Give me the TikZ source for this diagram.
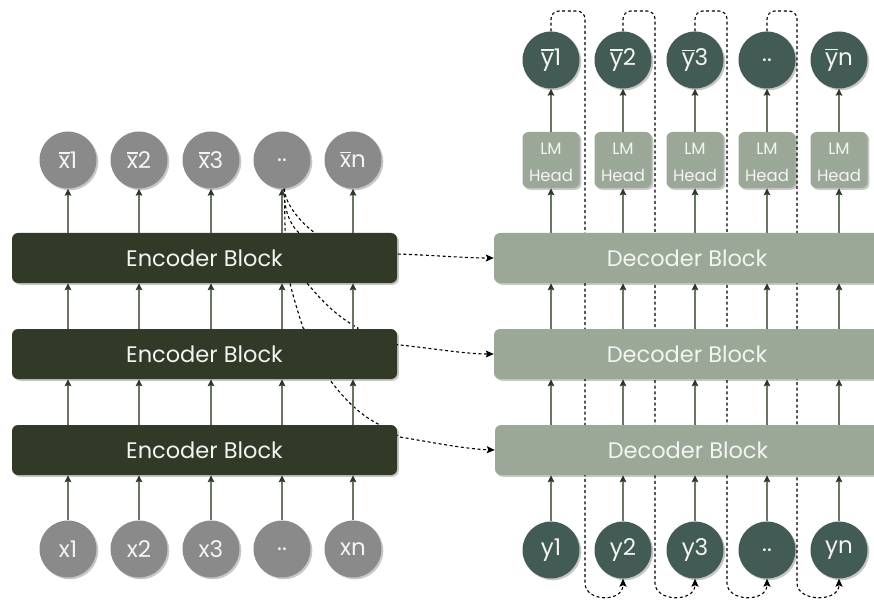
\documentclass[tikz,border=0pt]{standalone}
\usepackage{fontspec}
\setmainfont{Poppins}
\usetikzlibrary{arrows.meta,shadows,calc}

\pgfdeclarelayer{background}
\pgfsetlayers{background,main}

\definecolor{encfill}{HTML}{313A27}
\definecolor{xgray}{HTML}{8A8A8A}
\definecolor{decfill}{HTML}{9BA898}
\definecolor{yteal}{HTML}{435B55}
\definecolor{flowline}{HTML}{6B7565}
\definecolor{flowtip}{HTML}{2E3A28}
\definecolor{labelwhite}{HTML}{F4F4F2}

% letter with a bar over it
\newcommand\barglyph[1]{\leavevmode\vbox{\hrule height 1.2pt\kern2.2pt\hbox{#1}}}

\tikzset{
  softshadow/.style={drop shadow={shadow xshift=1.8pt,shadow yshift=-1.8pt,fill=black,opacity=0.22}},
  xtoken/.style={circle, fill=xgray, text=labelwhite, minimum size=57, inner sep=0,
    font=\fontsize{23}{26}\selectfont, softshadow},
  ytoken/.style={xtoken, fill=yteal},
  encblock/.style={rounded corners=6, fill=encfill, text=labelwhite, minimum width=385,
    minimum height=50, inner sep=0, font=\fontsize{22.5}{26}\selectfont, softshadow},
  decblock/.style={encblock, fill=decfill, minimum width=386},
  lmhead/.style={rounded corners=6, fill=decfill, text=labelwhite, minimum width=57,
    minimum height=56, inner sep=0, align=center, font=\fontsize{16.5}{28}\selectfont, softshadow},
  flow/.style={draw=flowline, line width=1.3,
    -{Stealth[length=7pt,width=6.5pt,inset=1pt,color=flowtip]}},
  xlink/.style={draw=black, line width=1.1, dash pattern=on 3pt off 2.6pt,
    -{Stealth[length=8pt,width=7pt,inset=1.5pt]}},
  fbloop/.style={xlink, rounded corners=8},
}

\begin{document}
\begin{tikzpicture}[x=1pt,y=-1pt]
\useasboundingbox (0,0) rectangle (874,601);
\clip (0,0) rectangle (874,601);

% encoder stack
\node[encblock] (e1) at (204.5,258) {Encoder Block};
\node[encblock] (e2) at (204.5,354) {Encoder Block};
\node[encblock] (e3) at (204.5,450) {Encoder Block};

% decoder stack (runs past the right edge)
\node[decblock] (d1) at (687,258) {Decoder Block};
\node[decblock] (d2) at (687,354) {Decoder Block};
\node[decblock] (d3) at (688,450) {Decoder Block};

% encoder input and output tokens
\node[xtoken] (x1) at (68,549)  {x1};
\node[xtoken] (x2) at (139,549) {x2};
\node[xtoken] (x3) at (211,549) {x3};
\node[xtoken] (x4) at (282,549) {..};
\node[xtoken] (x5) at (353,549) {xn};

\node[xtoken] (xb1) at (68,160)  {\barglyph{x}1};
\node[xtoken] (xb2) at (139,160) {\barglyph{x}2};
\node[xtoken] (xb3) at (211,160) {\barglyph{x}3};
\node[xtoken] (xb4) at (282,160) {..};
\node[xtoken] (xb5) at (353,160) {\barglyph{x}n};

% decoder input tokens, LM heads and predictions
\node[ytoken] (y1) at (551,550) {y1};
\node[ytoken] (y2) at (623,550) {y2};
\node[ytoken] (y3) at (695,550) {y3};
\node[ytoken] (y4) at (767,550) {..};
\node[ytoken] (y5) at (839,550) {yn};

\foreach \i/\xx in {1/551,2/623,3/695,4/767,5/839}
  \node[lmhead] (lm\i) at (\xx,160) {\rule{0pt}{16pt}LM\\[-1pt]Head};

\node[ytoken] (yb1) at (551,60) {\barglyph{y}1};
\node[ytoken] (yb2) at (623,60) {\barglyph{y}2};
\node[ytoken] (yb3) at (695,60) {\barglyph{y}3};
\node[ytoken] (yb4) at (767,60) {..};
\node[ytoken] (yb5) at (839,60) {\barglyph{y}n};

% vertical data flow
\foreach \i in {1,...,5} {
  \draw[flow] (x\i.north) -- (x\i.north |- e3.south);
  \draw[flow] (x\i.north |- e3.north) -- (x\i.north |- e2.south);
  \draw[flow] (x\i.north |- e2.north) -- (x\i.north |- e1.south);
  \draw[flow] (x\i.north |- e1.north) -- (xb\i.south);
  \draw[flow] (y\i.north) -- (y\i.north |- d3.south);
  \draw[flow] (y\i.north |- d3.north) -- (y\i.north |- d2.south);
  \draw[flow] (y\i.north |- d2.north) -- (y\i.north |- d1.south);
  \draw[flow] (y\i.north |- d1.north) -- (lm\i.south);
  \draw[flow] (lm\i.north) -- (yb\i.south);
}

\begin{pgfonlayer}{background}
  % encoder output handed to every decoder block
  \draw[xlink] ([xshift=2pt]xb4.south) .. controls (284,250) and (330,252) .. (397,254)
    .. controls (430,255) and (465,258) .. (d1.west);
  \draw[xlink] ([xshift=2.5pt]xb4.south) .. controls (285,262) and (287,272) .. (290,283)
    .. controls (294,300) and (299,315) .. (303,328)
    .. controls (330,338) and (380,343) .. (400,345)
    .. controls (430,348) and (465,354) .. (d2.west);
  \draw[xlink] ([xshift=2pt]xb4.south) .. controls (286,205) and (300,222) .. (315,233)
    -- (307,283) .. controls (325,305) and (340,318) .. (358,328)
    -- (330,380) .. controls (345,400) and (360,415) .. (380,425)
    -- (400,437) .. controls (430,442) and (465,449) .. (d3.west);

  % each prediction fed back as the next decoder input
  \foreach \a/\b/\s in {1/2/585,2/3/655,3/4/727,4/5/797}
    \draw[fbloop] (yb\a.north) |- (\s,11) -- (\s,575)
      .. controls (\s,602) and ($(y\b.south)+(0,24)$) .. (y\b.south);
\end{pgfonlayer}
\end{tikzpicture}
\end{document}
